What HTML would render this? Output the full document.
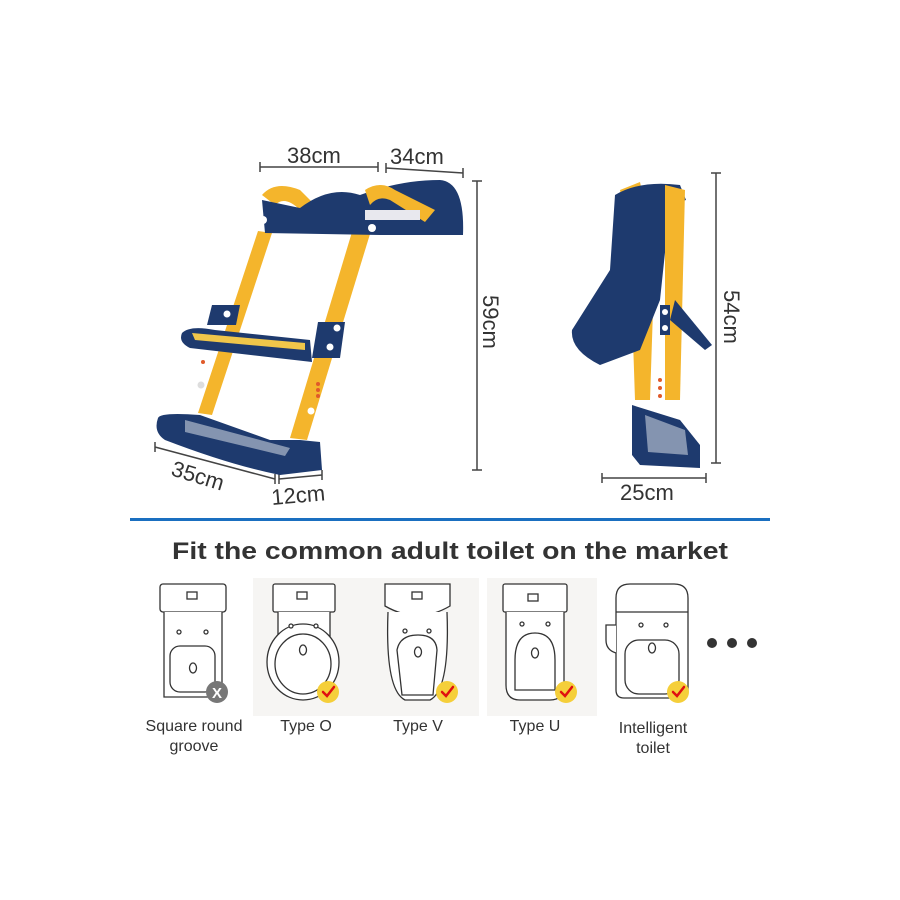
<!DOCTYPE html>
<html><head><style>body{margin:0;background:#fff}svg{display:block}</style></head><body>
<svg width="900" height="900" viewBox="0 0 900 900" xmlns="http://www.w3.org/2000/svg" font-family="Liberation Sans, sans-serif">
<rect width="900" height="900" fill="#fff"/>
<!-- dimension lines -->
<g stroke="#444" stroke-width="1.5" fill="none">
<path d="M260 167H378M260 162v10M378 162v10"/>
<path d="M386 168L463 173M386 163v10M463 168v10"/>
<path d="M477 181V470M472 181h10M472 470h10"/>
<path d="M155 447L275 479M155 442v10M275 474v10"/>
<path d="M279 479L322 475M279 474v10M322 470v10"/>
<path d="M716 173V463M711 173h10M711 463h10"/>
<path d="M602 478H706M602 473v10M706 473v10"/>
</g>
<g fill="#333" font-size="22">
<text x="287" y="163">38cm</text>
<text x="390" y="164">34cm</text>
<text x="483" y="295" transform="rotate(90 483 295)">59cm</text>
<text x="170" y="475" transform="rotate(17 170 475)">35cm</text>
<text x="272" y="505" transform="rotate(-5 272 505)">12cm</text>
<text x="724" y="290" transform="rotate(90 724 290)">54cm</text>
<text x="620" y="500">25cm</text>
</g>
<!-- ladder -->
<g>
<polygon points="258,231 272,233 212,415 198,413" fill="#f4b52c"/>
<polygon points="352,232 370,234 307,440 290,438" fill="#f4b52c"/>
<path d="M262 195 Q275 180 300 190 L320 210 L300 210 Q285 195 275 205Z" fill="#f4b52c"/>
<path d="M262 200 L300 208 Q330 185 360 195 Q400 180 440 180 Q465 182 463 235 L380 235 L265 233Z" fill="#1e3a6e"/>
<path d="M365 190 Q380 180 395 190 L435 210 L425 222 L390 200 Q378 195 370 205Z" fill="#f4b52c"/>
<rect x="365" y="210" width="55" height="10" fill="#e8e8ee"/>
<circle cx="263" cy="220" r="4" fill="#fff"/><circle cx="372" cy="228" r="4" fill="#fff"/>
<polygon points="212,305 240,305 236,325 207,325" fill="#1e3a6e"/>
<polygon points="318,322 345,322 340,358 312,358" fill="#1e3a6e"/>
<circle cx="227" cy="314" r="3.5" fill="#fff"/><circle cx="337" cy="328" r="3.5" fill="#fff"/><circle cx="330" cy="347" r="3.5" fill="#fff"/>
<path d="M182 333 Q190 325 215 330 L310 340 L312 362 L190 348 Q178 342 182 333Z" fill="#1e3a6e"/>
<path d="M192 333 L305 343 L305 350 L195 340Z" fill="#f0c64a"/>
<g fill="#e05a2a"><circle cx="203" cy="362" r="2"/><circle cx="318" cy="384" r="2"/><circle cx="318" cy="390" r="2"/><circle cx="318" cy="396" r="2"/></g>
<circle cx="201" cy="385" r="3.5" fill="#ddd"/><circle cx="311" cy="411" r="3.5" fill="#fff"/>
<path d="M158 418 Q160 412 200 415 L270 440 L300 440 L320 442 L322 470 L280 475 Q230 465 165 440 Q153 432 158 418Z" fill="#1e3a6e"/>
<path d="M185 420 L290 448 L285 456 L185 432Z" fill="#8494b0"/>
</g>
<!-- folded side view -->
<g>
<polygon points="620,190 640,182 655,250 650,400 635,400 630,250" fill="#f4b52c"/>
<path d="M615 195 Q640 180 680 185 L686 200 L670 205 L660 300 L640 350 L600 365 Q570 350 572 330 L610 270Z" fill="#1e3a6e"/>
<path d="M665 185 L685 190 L680 400 L665 400Z" fill="#f4b52c"/>
<path d="M675 300 L712 345 L705 350 L670 320Z" fill="#1e3a6e"/>
<rect x="660" y="305" width="10" height="30" fill="#1e3a6e"/>
<circle cx="665" cy="312" r="3" fill="#fff"/><circle cx="665" cy="328" r="3" fill="#fff"/>
<path d="M632 405 L680 420 L700 445 L700 468 L640 465 L632 455Z" fill="#1e3a6e"/>
<path d="M645 415 L685 430 L688 455 L648 452Z" fill="#8494b0"/>
<g fill="#e05a2a"><circle cx="660" cy="380" r="2"/><circle cx="660" cy="388" r="2"/><circle cx="660" cy="396" r="2"/></g>
</g>
<!-- divider -->
<rect x="130" y="518" width="640" height="3" fill="#1a6fc0"/>
<text x="450" y="559" font-size="24" font-weight="bold" fill="#333" text-anchor="middle" textLength="556" lengthAdjust="spacingAndGlyphs">Fit the common adult toilet on the market</text>
<!-- panels -->
<rect x="253" y="578" width="226" height="138" fill="#f6f5f3"/>
<rect x="487" y="578" width="110" height="138" fill="#f6f5f3"/>
<g stroke="#333" stroke-width="1.3" fill="#fff">
<!-- square -->
<rect x="160" y="584" width="66" height="28" rx="3"/>
<path d="M164 612 V697 H222 V612"/>
<rect x="170" y="646" width="45" height="46" rx="10"/>
<circle cx="179" cy="632" r="2"/><circle cx="206" cy="632" r="2"/>
<rect x="187" y="592" width="10" height="7"/>
<ellipse cx="193" cy="668" rx="3.5" ry="5"/>
<!-- O -->
<rect x="273" y="584" width="62" height="28" rx="2"/>
<path d="M278 612 V642 H330 V612"/>
<ellipse cx="303" cy="662" rx="36" ry="38"/>
<ellipse cx="303" cy="664" rx="28" ry="30"/>
<circle cx="291" cy="626" r="2"/><circle cx="316" cy="626" r="2"/>
<rect x="297" y="592" width="10" height="7"/>
<ellipse cx="303" cy="650" rx="3.5" ry="5"/>
<!-- V -->
<path d="M385 584 H450 V606 Q418 625 385 606Z"/>
<path d="M388 612 Q385 690 405 700 H430 Q450 690 447 612"/>
<path d="M397 650 Q400 635 418 635 Q436 635 437 650 L433 695 H402Z"/>
<circle cx="405" cy="631" r="2"/><circle cx="429" cy="631" r="2"/>
<rect x="412" y="592" width="10" height="7"/>
<ellipse cx="418" cy="652" rx="3.5" ry="5"/>
<!-- U -->
<rect x="503" y="584" width="64" height="28" rx="2"/>
<path d="M506 612 V685 Q506 700 520 700 H550 Q564 700 564 685 V612"/>
<path d="M515 660 Q515 633 535 633 Q555 633 555 660 V690 H515Z"/>
<circle cx="522" cy="624" r="2"/><circle cx="548" cy="624" r="2"/>
<rect x="528" y="594" width="10" height="7"/>
<ellipse cx="535" cy="653" rx="3.5" ry="5"/>
<!-- intelligent -->
<path d="M616 598 Q616 584 630 584 H674 Q688 584 688 598 V690 Q688 698 680 698 H624 Q616 698 616 690Z"/>
<path d="M616 612 H688"/>
<path d="M616 625 H606 V640 Q606 650 616 653"/>
<rect x="625" y="640" width="54" height="54" rx="14"/>
<circle cx="641" cy="625" r="2"/><circle cx="666" cy="625" r="2"/>
<ellipse cx="652" cy="648" rx="3.5" ry="5"/>
</g>
<g fill="#333"><circle cx="712" cy="643" r="5"/><circle cx="732" cy="643" r="5"/><circle cx="752" cy="643" r="5"/></g>
<!-- badges -->
<circle cx="217" cy="692" r="11" fill="#777"/>
<text x="217" y="698" font-size="15" font-weight="bold" fill="#fff" text-anchor="middle">X</text>
<g fill="#f5cf3a"><circle cx="328" cy="692" r="11"/><circle cx="447" cy="692" r="11"/><circle cx="566" cy="692" r="11"/><circle cx="678" cy="692" r="11"/></g>
<g stroke="#e01010" stroke-width="2.5" fill="none" stroke-linecap="round">
<path d="M323 692l4 4l7-9"/><path d="M442 692l4 4l7-9"/><path d="M561 692l4 4l7-9"/><path d="M673 692l4 4l7-9"/>
</g>
<g font-size="16" fill="#333" text-anchor="middle">
<text x="194" y="731">Square round</text>
<text x="194" y="751">groove</text>
<text x="306" y="731">Type O</text>
<text x="418" y="731">Type V</text>
<text x="535" y="731">Type U</text>
<text x="653" y="733">Intelligent</text>
<text x="653" y="753">toilet</text>
</g>
</svg>
</body></html>
